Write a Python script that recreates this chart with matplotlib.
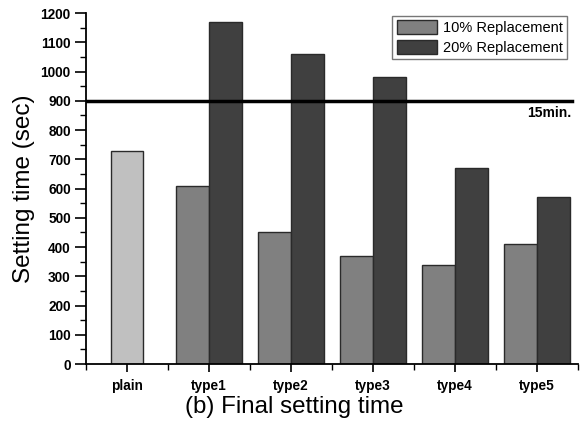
import matplotlib.pyplot as plt
from matplotlib.ticker import MultipleLocator
import numpy as np

plt.rcParams['font.family'] = ['Liberation Sans', 'DejaVu Sans']

categories = ['plain', 'type1', 'type2', 'type3', 'type4', 'type5']
plain_value = 730
rep10 = [609, 450, 370, 340, 410]
rep20 = [1168, 1060, 980, 670, 570]
limit_sec = 900

fig = plt.figure(figsize=(5.83, 4.34), dpi=100)
ax = fig.add_axes([0.1475, 0.161, 0.8435, 0.809])

w = 0.4
x = np.arange(len(categories))
ax.bar(0, plain_value, w, color='#c0c0c0', edgecolor='#2a2a2a', linewidth=1)
ax.bar(x[1:] - w / 2, rep10, w, color='#808080', edgecolor='#2a2a2a', linewidth=1,
       label='10% Replacement')
ax.bar(x[1:] + w / 2, rep20, w, color='#404040', edgecolor='#2a2a2a', linewidth=1,
       label='20% Replacement')

ax.plot([-0.5, 5.43], [limit_sec, limit_sec], color='black', linewidth=2.5)
ax.text(5.42, 858, '15min.', ha='right', va='center', fontsize=10, fontweight='bold')

ax.set_xlim(-0.5, 5.5)
ax.set_ylim(0, 1200)
ax.set_xticks(x)
ax.set_xticklabels(categories, fontsize=9.8, fontweight='bold')
ax.xaxis.set_minor_locator(MultipleLocator(1, offset=0.5))
ax.yaxis.set_major_locator(MultipleLocator(100))
ax.yaxis.set_minor_locator(MultipleLocator(50))
for lab in ax.get_yticklabels():
    lab.set_fontsize(9.8)
    lab.set_fontweight('bold')

ax.spines['top'].set_visible(False)
ax.spines['right'].set_visible(False)
ax.spines['left'].set_linewidth(1.3)
ax.spines['bottom'].set_linewidth(1.3)
ax.tick_params(axis='y', which='major', length=8, width=1.2, pad=3)
ax.tick_params(axis='y', which='minor', length=4, width=1)
ax.tick_params(axis='x', which='major', length=6, width=1.2, pad=5)
ax.tick_params(axis='x', which='minor', length=4, width=1)

ax.set_ylabel('Setting time (sec)', fontsize=17.5, labelpad=4)

leg = ax.legend(loc='upper right', bbox_to_anchor=(0.985, 1.0), fontsize=10.5,
                frameon=True, fancybox=False, handlelength=2.8, handleheight=1.1,
                borderpad=0.3, labelspacing=0.3, handletextpad=0.4, borderaxespad=0.2)
leg.get_frame().set_edgecolor('#555555')
leg.get_frame().set_linewidth(1)

fig.text(0.505, 0.062, '(b) Final setting time', ha='center', va='center', fontsize=17.4)

fig.savefig('out.png', dpi=100)
